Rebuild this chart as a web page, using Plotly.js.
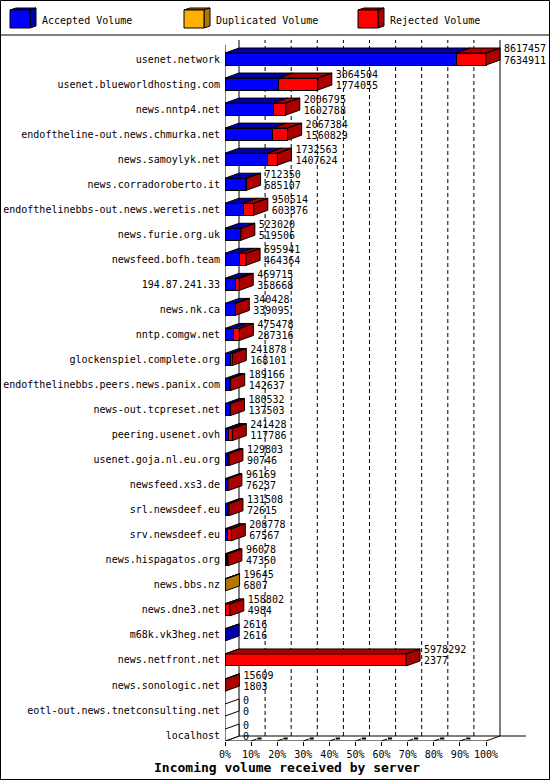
<!DOCTYPE html>
<html>
<head>
<meta charset="utf-8">
<script src="https://cdn.plot.ly/plotly-3.0.1.min.js"></script>
<style>
  html, body { margin: 0; padding: 0; background: #fff; }
  #chart { width: 550px; height: 780px; }
</style>
</head>
<body>
<div id="chart"></div>
<script>
// servers, top to bottom
var servers = [
  'usenet.network', 'usenet.blueworldhosting.com', 'news.nntp4.net',
  'endoftheline-out.news.chmurka.net', 'news.samoylyk.net', 'news.corradoroberto.it',
  'endofthelinebbs-out.news.weretis.net', 'news.furie.org.uk', 'newsfeed.bofh.team',
  '194.87.241.33', 'news.nk.ca', 'nntp.comgw.net', 'glockenspiel.complete.org',
  'endofthelinebbs.peers.news.panix.com', 'news-out.tcpreset.net', 'peering.usenet.ovh',
  'usenet.goja.nl.eu.org', 'newsfeed.xs3.de', 'srl.newsdeef.eu', 'srv.newsdeef.eu',
  'news.hispagatos.org', 'news.bbs.nz', 'news.dne3.net', 'm68k.vk3heg.net',
  'news.netfront.net', 'news.sonologic.net', 'eotl-out.news.tnetconsulting.net', 'localhost'
];

var totalVol = [
  8617457, 3064504, 2006795, 2067384, 1732563, 712350, 950514, 523020, 695941,
  469715, 340428, 475478, 241878, 189166, 180532, 241428, 129803, 96169, 131508,
  208778, 96078, 19645, 158802, 2616, 5978292, 15609, 0, 0
];

var acceptedVol = [
  7634911, 1774055, 1602788, 1560829, 1407624, 685107, 603376, 519506, 464364,
  358668, 339095, 287316, 168101, 142637, 137503, 117786, 90746, 76237, 72615,
  67567, 47350, 6807, 4984, 2616, 2377, 1803, 0, 0
];

var duplicatedVol = [
  0, 0, 0, 0, 0, 0, 0, 0, 0,
  0, 0, 0, 0, 0, 0, 0, 0, 0, 0,
  0, 0, 12838, 0, 0, 0, 0, 0, 0
];

var rejectedVol = [
  982546, 1290449, 404007, 506555, 324939, 27243, 347138, 3514, 231577,
  111047, 1333, 188162, 73777, 46529, 43029, 123642, 39057, 19932, 58893,
  141211, 48728, 0, 153818, 0, 5975915, 13806, 0, 0
];

var tickPct = [0, 10, 20, 30, 40, 50, 60, 70, 80, 90, 100];

// --- geometry ---
var FONT = 'DejaVu Sans Mono';
var DX = 14 / 2.61;      // depth of the 3d effect, in percent units
var DY = 5 / 25.04;      // depth, in category units
var LABEL_GAP = 4 / 2.61;
var BAR_H = 0.48;
var Y_BOTTOM = 27.236;   // front floor
var Y_TOP = -0.839;
var WALL_TOP = -0.76;

var maxTotal = Math.max.apply(null, totalVol);
function pct(v) { return v / maxTotal * 100; }

var rows = servers.map(function (s, i) { return i; });

var series = [
  { name: 'Accepted Volume', vals: acceptedVol, color: '#0000ff', dark: '#0000aa' },
  { name: 'Duplicated Volume', vals: duplicatedVol, color: '#ffb000', dark: '#b07800' },
  { name: 'Rejected Volume', vals: rejectedVol, color: '#ff0000', dark: '#aa0000' }
];

// front faces
var data = series.map(function (s) {
  return {
    type: 'bar',
    orientation: 'h',
    name: s.name,
    y: rows,
    x: s.vals.map(function (v) { return v > 0 ? pct(v) : null; }),
    width: BAR_H,
    marker: { color: s.color, line: { color: '#000', width: 1 } },
    showlegend: false,
    hoverinfo: 'skip'
  };
});

// top and side faces
var polys = {};
function addPoly(color, pts) {
  if (!polys[color]) polys[color] = { x: [], y: [] };
  pts.forEach(function (p) { polys[color].x.push(p[0]); polys[color].y.push(p[1]); });
  polys[color].x.push(pts[0][0], null);
  polys[color].y.push(pts[0][1], null);
}

rows.forEach(function (i) {
  var yt = i - BAR_H / 2, yb = i + BAR_H / 2;
  var start = 0, lastDark = '#ffffff';
  series.forEach(function (s) {
    var v = s.vals[i];
    if (v <= 0) return;
    var a = pct(start), b = pct(start + v);
    addPoly(s.dark, [[a, yt], [b, yt], [b + DX, yt - DY], [a + DX, yt - DY]]);
    lastDark = s.dark;
    start += v;
  });
  var T = pct(totalVol[i]);
  addPoly(lastDark, [[T, yt], [T + DX, yt - DY], [T + DX, yb - DY], [T, yb]]);
});

Object.keys(polys).forEach(function (c) {
  data.push({
    type: 'scatter', mode: 'lines', fill: 'toself', fillcolor: c,
    x: polys[c].x, y: polys[c].y,
    line: { color: '#000', width: 1 },
    showlegend: false, hoverinfo: 'skip'
  });
});

// value labels: total on top, accepted below
data.push({
  type: 'scatter', mode: 'text',
  x: totalVol.map(function (v) { return pct(v) + DX + LABEL_GAP; }),
  y: rows.map(function (i) { return i - 0.36; }),
  text: totalVol.map(String),
  textposition: 'middle right',
  textfont: { family: FONT, size: 10, color: '#000' },
  cliponaxis: false, showlegend: false, hoverinfo: 'skip'
});
data.push({
  type: 'scatter', mode: 'text',
  x: totalVol.map(function (v) { return pct(v) + DX + LABEL_GAP; }),
  y: rows.map(function (i) { return i + 0.08; }),
  text: acceptedVol.map(String),
  textposition: 'middle right',
  textfont: { family: FONT, size: 10, color: '#000' },
  cliponaxis: false, showlegend: false, hoverinfo: 'skip'
});

// --- frame, walls, grid ---
var L = 225, PW = 325, T0 = 38, PH = 703;
function px(x) { return (x - L) / PW; }
function py(y) { return (T0 + PH - y) / PH; }
function pathPx(pts) {
  return 'M' + pts.map(function (p) { return px(p[0]) + ',' + py(p[1]); }).join(' L') + ' Z';
}

var shapes = [];
function line(x0, y0, x1, y1, extra) {
  var s = { type: 'line', xref: 'x', yref: 'y', x0: x0, y0: y0, x1: x1, y1: y1,
            line: { color: '#000', width: 1 }, layer: 'below' };
  for (var k in extra) s[k] = extra[k];
  shapes.push(s);
}

// dashed grid on the back wall
tickPct.slice(1, 10).forEach(function (p) {
  line(p + DX, Y_BOTTOM - DY, p + DX, WALL_TOP, { line: { color: '#000', width: 1, dash: '4px,3px' } });
  // little floor ticks
  line(p, Y_BOTTOM, p + DX * 0.4, Y_BOTTOM - DY * 0.4);
  shapes.push({ type: 'rect', xref: 'x', yref: 'y', x0: p + DX * 0.45, x1: p + DX * 0.75,
    y0: Y_BOTTOM - DY * 0.3, y1: Y_BOTTOM - DY * 0.7, fillcolor: '#000', line: { width: 0 }, layer: 'below' });
});
line(DX, Y_BOTTOM - DY, DX, WALL_TOP);                       // back wall left
line(100 + DX, Y_BOTTOM - DY, 100 + DX, WALL_TOP);           // back wall right
line(DX, Y_BOTTOM - DY, 115.3, Y_BOTTOM - DY);               // back floor
line(0, Y_BOTTOM, 100, Y_BOTTOM);                            // front floor
line(100, Y_BOTTOM, 100 + DX, Y_BOTTOM - DY);
line(-2.7, Y_BOTTOM + 0.12, DX, Y_BOTTOM - DY);
line(0, Y_BOTTOM, 0, -0.56);                                 // front axis

// outer frame and legend box
shapes.push({ type: 'rect', xref: 'paper', yref: 'paper', x0: px(0.5), x1: px(549.5), y0: py(0.5), y1: py(779.5),
  line: { color: '#000', width: 1 }, fillcolor: 'rgba(0,0,0,0)' });
shapes.push({ type: 'line', xref: 'paper', yref: 'paper', x0: px(0), x1: px(550), y0: py(35), y1: py(35),
  line: { color: '#000', width: 1 } });

// legend cubes
var annotations = [];
var legendX = [10, 184, 358];
series.forEach(function (s, k) {
  var x0 = legendX[k], x1 = x0 + 20, y0 = 10, y1 = 28, dx = 6, dy = 2;
  shapes.push({ type: 'path', xref: 'paper', yref: 'paper', fillcolor: s.dark, line: { color: '#000', width: 1 },
    path: pathPx([[x0, y0], [x0 + dx, y0 - dy], [x1 + dx, y0 - dy], [x1, y0]]) });
  shapes.push({ type: 'path', xref: 'paper', yref: 'paper', fillcolor: s.dark, line: { color: '#000', width: 1 },
    path: pathPx([[x1, y0], [x1 + dx, y0 - dy], [x1 + dx, y1 - dy], [x1, y1]]) });
  shapes.push({ type: 'rect', xref: 'paper', yref: 'paper', fillcolor: s.color, line: { color: '#000', width: 1 },
    x0: px(x0), x1: px(x1), y0: py(y0), y1: py(y1) });
  annotations.push({ xref: 'paper', yref: 'paper', x: px(x0 + 30), y: py(20), xanchor: 'left', yanchor: 'middle',
    text: s.name, showarrow: false, font: { family: FONT, size: 10, color: '#000' } });
});

annotations.push({ xref: 'paper', yref: 'paper', x: px(287), y: py(767), xanchor: 'center', yanchor: 'middle',
  text: '<b>Incoming volume received by server</b>', showarrow: false,
  font: { family: FONT, size: 13, color: '#000' } });

var layout = {
  width: 550,
  height: 780,
  margin: { l: L, r: 550 - L - PW, t: T0, b: 780 - T0 - PH },
  paper_bgcolor: '#fff',
  plot_bgcolor: 'rgba(0,0,0,0)',
  barmode: 'stack',
  bargap: 0,
  showlegend: false,
  font: { family: FONT, size: 10, color: '#000' },
  xaxis: {
    range: [0, PW / 2.61],
    tickvals: tickPct,
    ticktext: tickPct.map(function (p) { return p + '%'; }),
    ticks: 'outside', ticklen: 4, tickcolor: '#000',
    showgrid: false, zeroline: false, showline: false,
    tickfont: { family: FONT, size: 10, color: '#000' }
  },
  yaxis: {
    range: [Y_BOTTOM, Y_TOP],
    tickvals: rows,
    ticktext: servers,
    ticks: '', showgrid: false, zeroline: false, showline: false,
    ticklabelstandoff: 4,
    tickfont: { family: FONT, size: 10, color: '#000' }
  },
  shapes: shapes,
  annotations: annotations
};

Plotly.newPlot('chart', data, layout, { staticPlot: true });
</script>
</body>
</html>
